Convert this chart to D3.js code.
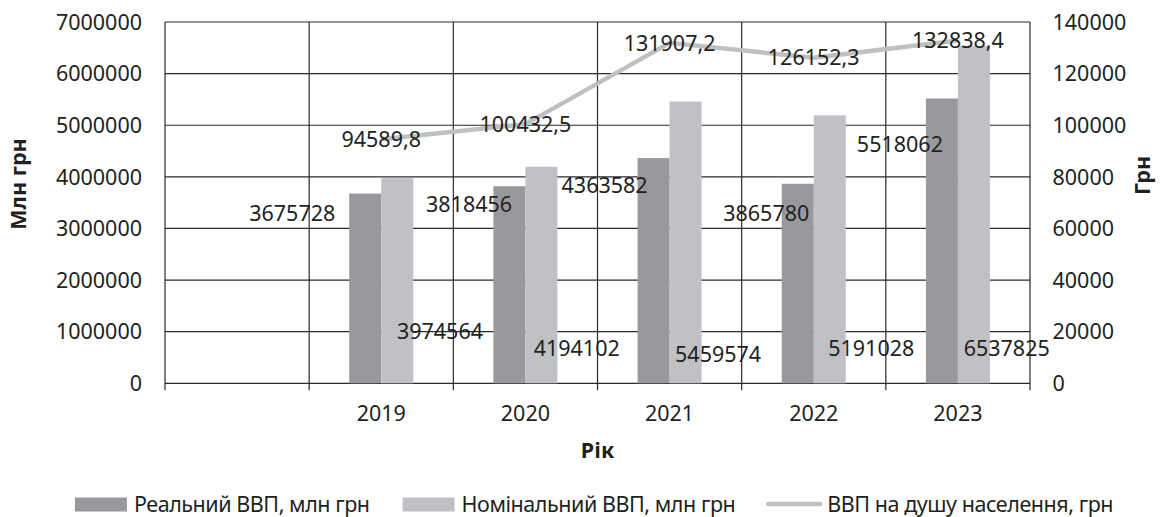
<!DOCTYPE html>
<html>
<head>
<meta charset="utf-8">
<script src="https://cdn.jsdelivr.net/npm/d3@7"></script>
<style>
  html, body { margin: 0; padding: 0; background: #fff; }
  svg { display: block; font-family: "Noto Sans", "Open Sans", sans-serif; }
</style>
</head>
<body>
<svg id="chart" width="1166" height="517"></svg>
<script>
// ---- data ----
const categories = ["", "2019", "2020", "2021", "2022", "2023"];
const realGDP = [null, 3675728, 3818456, 4363582, 3865780, 5518062];
const nominalGDP = [null, 3974564, 4194102, 5459574, 5191028, 6537825];
const gdpPerCapita = [null, 94589.8, 100432.5, 131907.2, 126152.3, 132838.4];
const leftTicks = [0, 1000000, 2000000, 3000000, 4000000, 5000000, 6000000, 7000000];
const rightTicks = [0, 20000, 40000, 60000, 80000, 100000, 120000, 140000];
const seriesNames = ["Реальний ВВП, млн грн", "Номінальний ВВП, млн грн", "ВВП на душу населення, грн"];
const leftTitle = "Млн грн";
const rightTitle = "Грн";
const xTitle = "Рік";

// ---- layout / style (not data) ----
const W = 1166, H = 517;
const margin = { top: 22, right: 136, bottom: 133.7, left: 165 };
const colors = { real: "#98999d", nominal: "#c0c1c4", line: "#bfc0c3", grid: "#2a2a2a", text: "#231f20" };
const FS = 21.5;
// manually-placed data label offsets (px): relative to bar centre x and zero line y (baseline)
const realLabelOffsets = [null, [-73, -162.6], [-40.3, -171.6], [-49, -190.6], [-31.5, -162.6], [-42, -231.6]];
const nomLabelOffsets = [null, [42.7, -44], [35.3, -27.3], [32.5, -21.6], [41.5, -27.3], [32.8, -27.3]];

const svg = d3.select("#chart");
const iw = W - margin.left - margin.right;
const ih = H - margin.top - margin.bottom;
const g = svg.append("g").attr("transform", `translate(${margin.left},${margin.top})`);

const x = d3.scaleBand().domain(categories.map((c, i) => i)).range([0, iw]).padding(0);
const bw = x.bandwidth();
const groupW = bw * 0.444;
const x1 = d3.scaleBand().domain(["real", "nominal"]).range([(bw - groupW) / 2, (bw + groupW) / 2]).padding(0);
const yL = d3.scaleLinear().domain([0, 7000000]).range([ih, 0]);
const yR = d3.scaleLinear().domain([0, 140000]).range([ih, 0]);

// gridlines
g.append("g").selectAll("line").data(leftTicks).join("line")
  .attr("x1", 0).attr("x2", iw)
  .attr("y1", d => yL(d)).attr("y2", d => yL(d))
  .attr("stroke", colors.grid).attr("stroke-width", 1.2);
// vertical category boundary lines (incl. ticks below axis)
const bounds = d3.range(categories.length + 1).map(i => i * bw);
g.append("g").selectAll("line").data(bounds).join("line")
  .attr("x1", d => d).attr("x2", d => d)
  .attr("y1", 0).attr("y2", ih + 7)
  .attr("stroke", colors.grid).attr("stroke-width", 1.2);

// bars
const rows = categories.map((c, i) => ({ i, c, real: realGDP[i], nominal: nominalGDP[i], pc: gdpPerCapita[i] }))
  .filter(d => d.real != null);
const barG = g.append("g");
barG.selectAll("rect.real").data(rows).join("rect")
  .attr("class", "real")
  .attr("x", d => x(d.i) + x1("real"))
  .attr("width", x1.bandwidth())
  .attr("y", d => yL(d.real))
  .attr("height", d => ih - yL(d.real))
  .attr("fill", colors.real);
barG.selectAll("rect.nom").data(rows).join("rect")
  .attr("class", "nom")
  .attr("x", d => x(d.i) + x1("nominal"))
  .attr("width", x1.bandwidth())
  .attr("y", d => yL(d.nominal))
  .attr("height", d => ih - yL(d.nominal))
  .attr("fill", colors.nominal);

// line
const line = d3.line().x(d => x(d.i) + bw / 2).y(d => yR(d.pc));
g.append("path").datum(rows).attr("d", line)
  .attr("fill", "none").attr("stroke", colors.line).attr("stroke-width", 4.5)
  .attr("stroke-linejoin", "round");

// axes labels
const txt = (sel) => sel.attr("fill", colors.text).attr("font-size", FS);
g.append("g").selectAll("text").data(leftTicks).join("text")
  .attr("x", -23).attr("y", d => yL(d)).attr("dy", "0.36em")
  .attr("text-anchor", "end").text(d => d).call(txt);
g.append("g").selectAll("text").data(rightTicks).join("text")
  .attr("x", iw + 22.5).attr("y", d => yR(d)).attr("dy", "0.36em")
  .attr("text-anchor", "start").text(d => d).call(txt);
g.append("g").selectAll("text").data(categories.map((c, i) => ({ c, i }))).join("text")
  .attr("x", d => x(d.i) + bw / 2).attr("y", ih + 38)
  .attr("text-anchor", "middle").text(d => d.c).call(txt);

// titles
svg.append("text").attr("transform", `translate(26,184) rotate(-90)`)
  .attr("text-anchor", "middle").attr("font-weight", "bold").text(leftTitle).call(txt);
svg.append("text").attr("transform", `translate(1150,175.5) rotate(-90)`)
  .attr("text-anchor", "middle").attr("font-weight", "bold").text(rightTitle).call(txt);
svg.append("text").attr("x", margin.left + iw / 2).attr("y", 458)
  .attr("text-anchor", "middle").attr("font-weight", "bold").text(xTitle).call(txt);

// data labels
const fmtPC = d3.formatLocale({ decimal: ",", thousands: "", grouping: [3], currency: ["", ""] }).format(".1f");
const lab = g.append("g");
lab.selectAll("text.rl").data(rows).join("text").attr("class", "rl")
  .attr("x", d => x(d.i) + x1("real") + x1.bandwidth() / 2 + realLabelOffsets[d.i][0])
  .attr("y", d => yL(0) + realLabelOffsets[d.i][1])
  .attr("text-anchor", "middle").text(d => d.real).call(txt);
lab.selectAll("text.nl").data(rows).join("text").attr("class", "nl")
  .attr("x", d => x(d.i) + x1("nominal") + x1.bandwidth() / 2 + nomLabelOffsets[d.i][0])
  .attr("y", d => yL(0) + nomLabelOffsets[d.i][1])
  .attr("text-anchor", "middle").text(d => d.nominal).call(txt);
lab.selectAll("text.pl").data(rows).join("text").attr("class", "pl")
  .attr("x", d => x(d.i) + bw / 2)
  .attr("y", d => yR(d.pc)).attr("dy", "0.36em")
  .attr("text-anchor", "middle").text(d => fmtPC(d.pc)).call(txt);

// legend
const leg = svg.append("g");
const swW = 52, gapT = 7, gapItem = 33, legY = 511.5, legCenter = 594;
const items = seriesNames.map((n, k) => ({ n, k }));
const itemG = leg.selectAll("g").data(items).join("g");
itemG.append("text").attr("x", swW + gapT).attr("y", legY).attr("letter-spacing", -0.45)
  .text(d => d.n).call(txt);
const widths = [];
itemG.each(function (d) { widths.push(swW + gapT + this.querySelector("text").getComputedTextLength()); });
const total = d3.sum(widths) + gapItem * (widths.length - 1);
let cx = legCenter - total / 2;
itemG.each(function (d, k) {
  d3.select(this).attr("transform", `translate(${cx},0)`);
  cx += widths[k] + gapItem;
});
itemG.filter(d => d.k < 2).append("rect")
  .attr("x", 0).attr("y", legY - 14).attr("width", swW).attr("height", 14)
  .attr("fill", d => d.k === 0 ? colors.real : colors.nominal);
itemG.filter(d => d.k === 2).append("line")
  .attr("x1", 0).attr("x2", swW).attr("y1", legY - 7.5).attr("y2", legY - 7.5)
  .attr("stroke", colors.line).attr("stroke-width", 4.5).attr("stroke-linecap", "round");
</script>
</body>
</html>
